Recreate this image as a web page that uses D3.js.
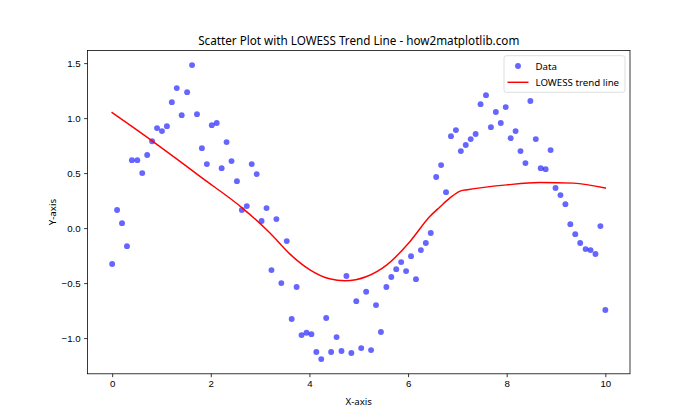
<!DOCTYPE html>
<html>
<head>
<meta charset="utf-8">
<script src="https://cdn.jsdelivr.net/npm/d3@7"></script>
<style>
  html, body { margin: 0; padding: 0; background: #fff; }
  svg { display: block; font-family: "Noto Sans", "Open Sans", "DejaVu Sans", sans-serif; }
</style>
</head>
<body>
<svg id="chart" width="700" height="420"></svg>
<script>
// ---- Data ----
const xValues = [0, 0.10, 0.20, 0.30, 0.40, 0.51, 0.61, 0.71, 0.81, 0.91,
  1.01, 1.11, 1.21, 1.31, 1.41, 1.52, 1.62, 1.72, 1.82, 1.92,
  2.02, 2.12, 2.22, 2.32, 2.42, 2.53, 2.63, 2.73, 2.83, 2.93,
  3.03, 3.13, 3.23, 3.33, 3.43, 3.54, 3.64, 3.74, 3.84, 3.94,
  4.04, 4.14, 4.24, 4.34, 4.44, 4.55, 4.65, 4.75, 4.85, 4.95,
  5.05, 5.15, 5.25, 5.35, 5.45, 5.56, 5.66, 5.76, 5.86, 5.96,
  6.06, 6.16, 6.26, 6.36, 6.46, 6.57, 6.67, 6.77, 6.87, 6.97,
  7.07, 7.17, 7.27, 7.37, 7.47, 7.58, 7.68, 7.78, 7.88, 7.98,
  8.08, 8.18, 8.28, 8.38, 8.48, 8.59, 8.69, 8.79, 8.89, 8.99,
  9.09, 9.19, 9.29, 9.39, 9.49, 9.60, 9.70, 9.80, 9.90, 10.0];
const yValues = [-0.327, 0.164, 0.045, -0.164, 0.618, 0.618, 0.500, 0.664, 0.790, 0.909,
  0.882, 0.927, 1.145, 1.273, 1.027, 1.236, 1.482, 1.036, 0.727, 0.582,
  0.936, 0.955, 0.545, 0.782, 0.609, 0.427, 0.164, 0.200, 0.582, 0.491,
  0.064, 0.182, -0.382, 0.082, -0.500, -0.118, -0.827, -0.536, -0.973, -0.952,
  -0.964, -1.127, -1.191, -0.818, -1.127, -0.991, -1.118, -0.436, -1.136, -0.664,
  -1.091, -0.579, -1.109, -0.700, -0.945, -0.536, -0.445, -0.373, -0.309, -0.391,
  -0.255, -0.464, -0.200, -0.136, -0.045, 0.464, 0.573, 0.327, 0.836, 0.891,
  0.700, 0.755, 0.809, 0.855, 1.127, 1.209, 0.918, 1.055, 0.955, 1.100,
  0.818, 0.882, 0.700, 0.591, 1.155, 0.809, 0.545, 0.536, 0.709, 0.364,
  0.300, 0.218, 0.036, -0.055, -0.136, -0.191, -0.200, -0.236, 0.018, -0.745];
const lowessX = [0, 0.83, 1.3, 1.78, 2.66, 3.2, 3.6, 4.01, 4.41, 4.72, 5.16, 5.57, 6.04, 6.44, 6.64, 6.85, 7.07, 7.2, 7.5, 8.0, 8.67, 9.35, 10.0];
const lowessY = [1.05, 0.787, 0.632, 0.47, 0.175, -0.045, -0.234, -0.379, -0.461, -0.479, -0.44, -0.334, -0.121, 0.105, 0.19, 0.275, 0.338, 0.348, 0.368, 0.393, 0.414, 0.409, 0.364];
const xTicks = [0, 2, 4, 6, 8, 10];
const xTickLabels = ["0", "2", "4", "6", "8", "10"];
const yTicks = [-1.0, -0.5, 0.0, 0.5, 1.0, 1.5];
const yTickLabels = ["\u22121.0", "\u22120.5", "0.0", "0.5", "1.0", "1.5"];
const titleText = "Scatter Plot with LOWESS Trend Line - how2matplotlib.com";
const xLabel = "X-axis";
const yLabel = "Y-axis";
const legendLabels = ["Data", "LOWESS trend line"];

// ---- Layout ----
const W = 700, H = 420;
const L = 87.5, R = 630, T = 50.4, B = 373.8;
const svg = d3.select("#chart");

const padX = (d3.max(xValues) - d3.min(xValues)) * 0.05;
const yMin = d3.min(yValues), yMax = d3.max(yValues);
const padY = (yMax - yMin) * 0.05;
const x = d3.scaleLinear().domain([d3.min(xValues) - padX, d3.max(xValues) + padX]).range([L, R]);
const y = d3.scaleLinear().domain([yMin - padY, yMax + padY]).range([B, T]);

// scatter
const pts = xValues.map((v, i) => [v, yValues[i]]);
svg.append("g").selectAll("circle").data(pts).join("circle")
  .attr("cx", d => x(d[0])).attr("cy", d => y(d[1])).attr("r", 2.95)
  .attr("fill", "#0000ff").attr("fill-opacity", 0.6);

// lowess line
const lw = lowessX.map((v, i) => [v, lowessY[i]]);
svg.append("path").datum(lw)
  .attr("d", d3.line().curve(d3.curveMonotoneX).x(d => x(d[0])).y(d => y(d[1])))
  .attr("fill", "none").attr("stroke", "#ff0000").attr("stroke-width", 1.46)
  .attr("stroke-linejoin", "round").attr("stroke-linecap", "square");

// axes
const fs = 9.7;
const xAxis = d3.axisBottom(x).tickValues(xTicks).tickFormat((d, i) => xTickLabels[i]).tickSizeOuter(0).tickSize(3.4).tickPadding(3.4);
const yAxis = d3.axisLeft(y).tickValues(yTicks).tickFormat((d, i) => yTickLabels[i]).tickSizeOuter(0).tickSize(3.4).tickPadding(3.4);
const gx = svg.append("g").attr("transform", `translate(0,${B})`).call(xAxis);
const gy = svg.append("g").attr("transform", `translate(${L},0)`).call(yAxis);
[gx, gy].forEach(g => {
  g.select(".domain").remove();
  g.selectAll(".tick line").attr("stroke", "#000").attr("stroke-width", 0.78);
  g.selectAll(".tick text").attr("fill", "#000").style("font-size", fs + "px").style("font-family", "inherit");
});

// frame
svg.append("rect").attr("x", L).attr("y", T).attr("width", R - L).attr("height", B - T)
  .attr("fill", "none").attr("stroke", "#000").attr("stroke-width", 0.78);

// title and labels
svg.append("text").attr("x", (L + R) / 2).attr("y", 44.6).attr("text-anchor", "middle")
  .style("font-size", "11.7px").attr("fill", "#000").text(titleText);
svg.append("text").attr("x", (L + R) / 2).attr("y", 405).attr("text-anchor", "middle")
  .style("font-size", fs + "px").attr("fill", "#000").text(xLabel);
svg.append("text").attr("transform", `translate(56,${(T + B) / 2}) rotate(-90)`).attr("text-anchor", "middle")
  .style("font-size", fs + "px").attr("fill", "#000").text(yLabel);

// legend
const lg = svg.append("g");
lg.append("rect").attr("x", 504).attr("y", 55.7).attr("width", 121).attr("height", 36.6)
  .attr("rx", 2.5).attr("fill", "#fff").attr("fill-opacity", 0.8).attr("stroke", "#d6d6d6").attr("stroke-width", 0.8);
lg.append("circle").attr("cx", 518).attr("cy", 66).attr("r", 2.95).attr("fill", "#0000ff").attr("fill-opacity", 0.6);
lg.append("line").attr("x1", 507.5).attr("x2", 528.5).attr("y1", 82.3).attr("y2", 82.3)
  .attr("stroke", "#ff0000").attr("stroke-width", 1.46);
lg.selectAll("text.lt").data(legendLabels).join("text").attr("class", "lt")
  .attr("x", 535.5).attr("y", (d, i) => 69.5 + i * 16.3)
  .style("font-size", fs + "px").attr("fill", "#000").text(d => d);
</script>
</body>
</html>
